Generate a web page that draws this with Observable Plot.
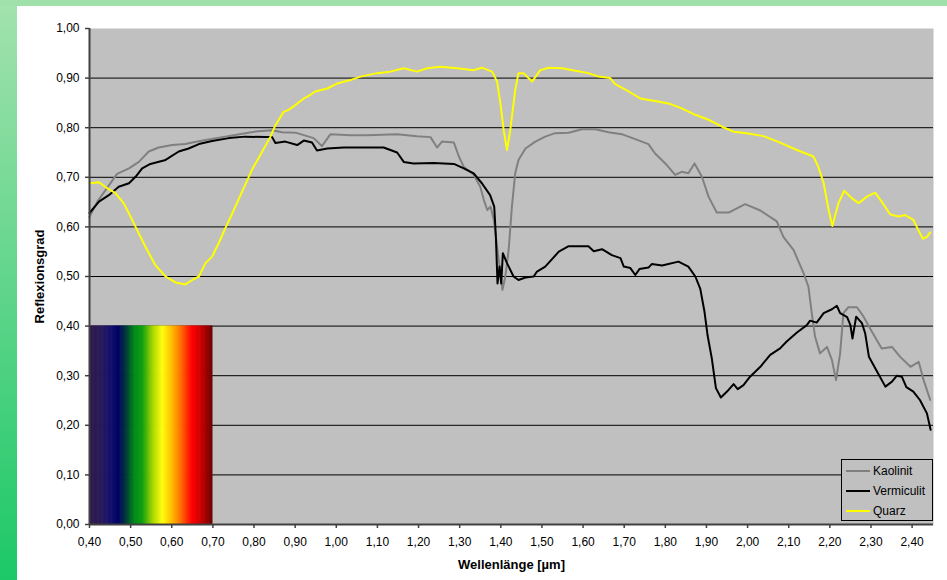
<!DOCTYPE html>
<html><head><meta charset="utf-8">
<script src="https://cdn.jsdelivr.net/npm/d3@7"></script>
<script src="https://cdn.jsdelivr.net/npm/@observablehq/plot@0.6"></script>
<style>
html,body{margin:0;padding:0;width:947px;height:580px;overflow:hidden;background:#fff;font-family:"Liberation Sans",Arial,sans-serif;}
#leftband{position:absolute;left:0;top:0;width:17px;height:580px;background:linear-gradient(#a3e2ae,#1cc867);}
#topband{position:absolute;left:0;top:0;width:947px;height:6px;background:#a0e1ab;}
#chart{position:absolute;left:17px;top:6px;}
#legend{position:absolute;left:841px;top:459px;width:92px;height:62px;border:1px solid #000;box-sizing:border-box;background:#c0c0c0;font-size:12px;color:#000;}
.row{position:absolute;left:4px;height:16px;display:flex;align-items:center;}
.sw{width:24px;height:0;border-top:2px solid;margin-right:3px;}
</style></head>
<body>
<div id="leftband"></div><div id="topband"></div>
<div id="chart"></div>
<div id="legend"></div>
<script>
// ---- data ----
const seriesNames = ["Kaolinit", "Vermiculit", "Quarz"];
const seriesColors = ["#808080", "#000000", "#ffff00"];

const kaolinitWl = [0.40,0.419,0.439,0.467,0.496,0.520,0.544,0.568,0.601,0.633,0.650,0.682,0.730,0.779,0.811,0.844,0.868,0.901,0.921,0.945,0.965,0.986,1.034,1.075,1.148,1.196,1.229,1.245,1.257,1.286,1.298,1.310,1.334,1.350,1.359,1.367,1.375,1.383,1.395,1.404,1.411,1.419,1.427,1.435,1.443,1.460,1.484,1.508,1.532,1.565,1.597,1.630,1.662,1.694,1.727,1.759,1.775,1.800,1.824,1.840,1.856,1.871,1.889,1.905,1.925,1.954,1.994,2.031,2.071,2.087,2.112,2.136,2.148,2.156,2.164,2.176,2.193,2.205,2.215,2.225,2.233,2.245,2.266,2.282,2.302,2.326,2.351,2.371,2.396,2.416,2.428,2.444];
const kaolinitR  = [0.620,0.651,0.674,0.707,0.718,0.731,0.752,0.760,0.765,0.767,0.770,0.775,0.782,0.789,0.793,0.795,0.791,0.790,0.785,0.779,0.763,0.787,0.785,0.785,0.787,0.783,0.781,0.760,0.772,0.770,0.742,0.721,0.705,0.681,0.654,0.634,0.641,0.614,0.533,0.473,0.500,0.553,0.641,0.708,0.735,0.758,0.772,0.782,0.789,0.790,0.797,0.797,0.791,0.787,0.777,0.767,0.748,0.728,0.705,0.711,0.708,0.728,0.701,0.661,0.629,0.629,0.646,0.633,0.611,0.580,0.553,0.507,0.479,0.426,0.379,0.345,0.358,0.332,0.291,0.345,0.426,0.438,0.438,0.419,0.389,0.355,0.358,0.338,0.318,0.328,0.291,0.251];

const vermiculitWl = [0.40,0.423,0.447,0.471,0.496,0.512,0.528,0.548,0.585,0.617,0.641,0.666,0.698,0.739,0.779,0.828,0.844,0.852,0.876,0.905,0.921,0.941,0.953,0.978,1.018,1.075,1.115,1.148,1.164,1.188,1.237,1.286,1.310,1.334,1.354,1.374,1.384,1.388,1.392,1.397,1.401,1.405,1.415,1.431,1.443,1.460,1.480,1.488,1.508,1.541,1.565,1.613,1.626,1.646,1.670,1.691,1.699,1.715,1.727,1.737,1.759,1.767,1.792,1.832,1.856,1.873,1.885,1.895,1.903,1.913,1.923,1.935,1.950,1.966,1.976,1.990,2.006,2.031,2.055,2.079,2.095,2.120,2.144,2.152,2.168,2.185,2.205,2.217,2.225,2.242,2.250,2.255,2.264,2.278,2.286,2.295,2.315,2.335,2.351,2.363,2.375,2.386,2.403,2.419,2.436,2.445];
const vermiculitR  = [0.628,0.651,0.664,0.681,0.688,0.701,0.718,0.727,0.735,0.752,0.758,0.767,0.773,0.779,0.782,0.781,0.781,0.769,0.772,0.765,0.774,0.770,0.754,0.758,0.760,0.760,0.760,0.750,0.731,0.728,0.729,0.727,0.718,0.708,0.688,0.664,0.641,0.580,0.486,0.520,0.486,0.547,0.527,0.500,0.493,0.498,0.500,0.510,0.520,0.550,0.561,0.561,0.551,0.555,0.543,0.537,0.520,0.517,0.503,0.515,0.518,0.525,0.522,0.530,0.520,0.500,0.475,0.430,0.380,0.335,0.275,0.256,0.268,0.283,0.273,0.281,0.298,0.318,0.342,0.355,0.369,0.387,0.402,0.411,0.407,0.426,0.434,0.441,0.426,0.418,0.402,0.375,0.419,0.406,0.385,0.338,0.308,0.278,0.288,0.300,0.298,0.277,0.268,0.251,0.224,0.191];

const quarzWl = [0.40,0.423,0.443,0.463,0.483,0.496,0.512,0.536,0.560,0.585,0.609,0.633,0.650,0.666,0.682,0.698,0.714,0.730,0.747,0.771,0.795,0.820,0.840,0.852,0.872,0.884,0.901,0.921,0.929,0.949,0.978,1.002,1.034,1.059,1.099,1.131,1.164,1.196,1.221,1.253,1.294,1.334,1.354,1.379,1.391,1.399,1.407,1.415,1.423,1.435,1.443,1.455,1.476,1.496,1.516,1.549,1.581,1.613,1.638,1.666,1.678,1.711,1.739,1.775,1.808,1.840,1.873,1.905,1.938,1.966,1.998,2.039,2.079,2.120,2.160,2.172,2.185,2.197,2.206,2.221,2.235,2.253,2.270,2.290,2.310,2.326,2.347,2.367,2.383,2.403,2.415,2.426,2.436,2.444];
const quarzR  = [0.688,0.690,0.678,0.668,0.648,0.627,0.600,0.560,0.523,0.500,0.488,0.484,0.493,0.500,0.527,0.540,0.567,0.597,0.627,0.671,0.715,0.752,0.782,0.805,0.832,0.836,0.846,0.859,0.862,0.873,0.879,0.889,0.896,0.903,0.910,0.913,0.920,0.913,0.920,0.923,0.920,0.916,0.921,0.913,0.893,0.849,0.795,0.755,0.795,0.876,0.910,0.910,0.893,0.916,0.921,0.920,0.915,0.910,0.903,0.900,0.888,0.873,0.859,0.854,0.849,0.839,0.826,0.816,0.802,0.792,0.789,0.783,0.770,0.755,0.742,0.721,0.688,0.634,0.602,0.648,0.673,0.658,0.648,0.661,0.669,0.651,0.625,0.621,0.624,0.614,0.594,0.576,0.580,0.589];

// visible spectrum band (wavelength stops and their colours)
const spectrumWl = [0.40,0.43,0.455,0.47,0.49,0.51,0.53,0.555,0.578,0.60,0.62,0.65,0.67,0.70];
const spectrumColors = ["#2e1a4a","#2a1a5c","#10106e","#000064","#003a3a","#008a18","#10a010","#a8d800","#ffff10","#ffc000","#ff7a00","#ff0000","#d00000","#6a0000"];
const spectrumTop = 0.40;

const yTicks = [0,0.1,0.2,0.3,0.4,0.5,0.6,0.7,0.8,0.9,1.0];
const xTicks = d3.range(4,25).map(d => d/10);
const gridValues = [0.1,0.2,0.3,0.4,0.5,0.6,0.7,0.8,0.9];

// ---- build tables ----
const toRows = (wl, r, name) => wl.map((w,i) => ({w, r: r[i], name}));
const kaolinit = toRows(kaolinitWl, kaolinitR, "Kaolinit");
const vermiculit = toRows(vermiculitWl, vermiculitR, "Vermiculit");
const quarz = toRows(quarzWl, quarzR, "Quarz");

const specColor = d3.scaleLinear().domain(spectrumWl).range(spectrumColors).interpolate(d3.interpolateRgb);
const N = 150;
const x0 = spectrumWl[0], x1 = spectrumWl[spectrumWl.length-1];
const stripes = d3.range(N).map(i => {
  const a = x0 + (x1-x0)*i/N, b = x0 + (x1-x0)*(i+1)/N;
  return {a, b: Math.min(x1, b + 0.0015), c: specColor((a+b)/2)};
});

const fmt = d => d3.format(".2f")(d).replace(".", ",");

const chart = Plot.plot({
  width: 930, height: 574,
  marginLeft: 72, marginRight: 14, marginTop: 22, marginBottom: 56,
  style: {fontFamily: "'Liberation Sans', Arial, sans-serif", fontSize: "12px", background: "white", color: "#000", overflow: "visible"},
  x: {domain: [0.4, 2.452], label: null},
  y: {domain: [0, 1], label: null},
  color: {type: "identity"},
  marks: [
    Plot.frame({fill: "#c0c0c0", stroke: null}),
    Plot.ruleY(gridValues, {stroke: "#000", strokeWidth: 1}),
    Plot.rect(stripes, {x1: "a", x2: "b", y1: () => 0, y2: () => spectrumTop, fill: "c"}),
    Plot.line(kaolinit, {x: "w", y: "r", stroke: seriesColors[0], strokeWidth: 2}),
    Plot.line(vermiculit, {x: "w", y: "r", stroke: seriesColors[1], strokeWidth: 2}),
    Plot.line(quarz, {x: "w", y: "r", stroke: seriesColors[2], strokeWidth: 2}),
    Plot.ruleX([0.4], {stroke: "#404040", strokeWidth: 2}),
    Plot.ruleY([0], {stroke: "#404040", strokeWidth: 2}),
    Plot.axisY({ticks: yTicks, tickFormat: fmt, tickSize: 4, tickPadding: 6, stroke: "#404040", strokeWidth: 1.5, label: null}),
    Plot.axisX({ticks: xTicks, tickFormat: fmt, tickSize: 4, tickPadding: 9, stroke: "#404040", strokeWidth: 1.5, label: null}),
    Plot.text(["Reflexionsgrad"], {frameAnchor: "left", dx: -50, rotate: -90, textAnchor: "middle", text: d => d, fontWeight: "bold", fontSize: 13}),
    Plot.text(["Wellenlänge [µm]"], {frameAnchor: "bottom", dy: 44, text: d => d, fontWeight: "bold", fontSize: 13})
  ]
});
document.getElementById("chart").appendChild(chart);

// legend (inside plot area, bottom right)
const legend = document.getElementById("legend");
seriesNames.forEach((n, i) => {
  const row = document.createElement("div");
  row.className = "row";
  row.style.top = (3 + i*20) + "px";
  const sw = document.createElement("div");
  sw.className = "sw"; sw.style.borderTopColor = seriesColors[i];
  const t = document.createElement("span"); t.textContent = n;
  row.appendChild(sw); row.appendChild(t);
  legend.appendChild(row);
});
</script>
</body></html>
